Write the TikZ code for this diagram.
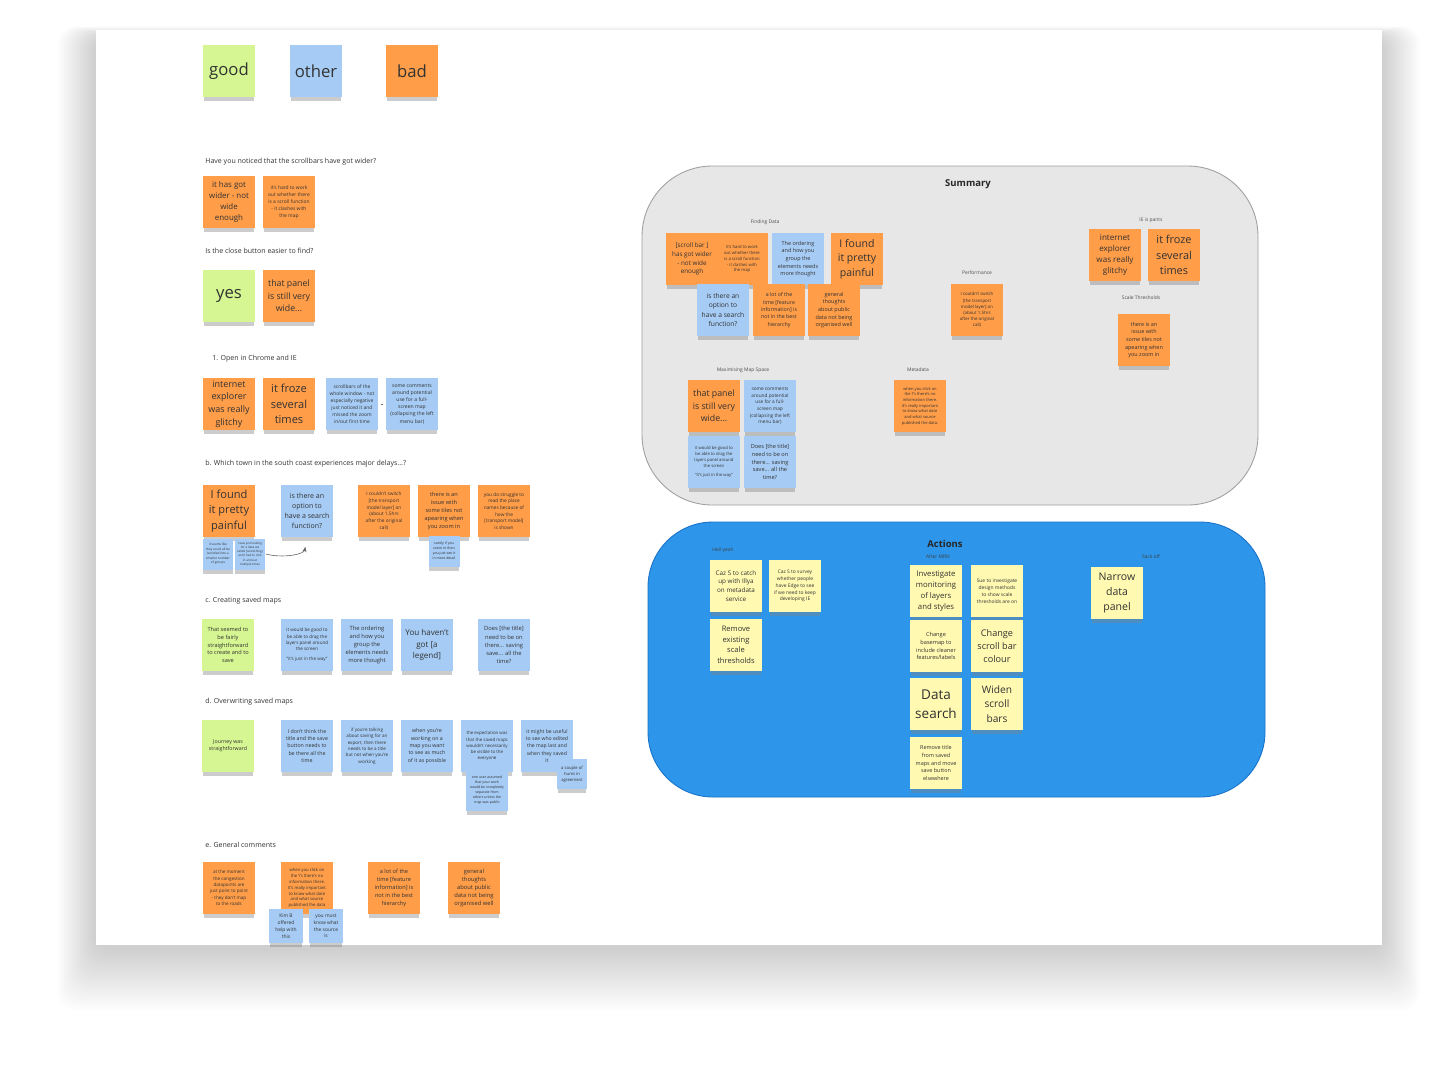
\documentclass[tikz,border=0pt]{standalone}
\usepackage{fontspec}
\setmainfont{Open Sans}
\usetikzlibrary{positioning,arrows.meta,shadows}

\definecolor{noteorange}{RGB}{255,157,72}
\definecolor{notegreen}{RGB}{213,246,146}
\definecolor{noteblue}{RGB}{166,204,245}
\definecolor{noteyellow}{RGB}{255,249,177}
\definecolor{summarygrey}{RGB}{231,231,231}
\definecolor{summaryline}{RGB}{160,160,160}
\definecolor{actionblue}{RGB}{45,150,235}
\definecolor{actionline}{RGB}{25,115,200}
\definecolor{inktext}{RGB}{50,50,50}

\begin{document}
\begin{tikzpicture}[
  x=0.02cm, y=-0.02cm,
  fz/.style={font=\fontsize{#1}{\fpeval{1.4*#1}}\selectfont},
  note/.style={
    minimum width=1.04cm,
    minimum height=1.04cm,
    inner sep=0.4pt,
    align=center,
    text=inktext,
    drop shadow={shadow xshift=0pt, shadow yshift=-3pt, shadow scale=0.96, opacity=0.4}
  },
  orangenote/.style={note, fill=noteorange},
  greennote/.style={note, fill=notegreen},
  bluenote/.style={note, fill=noteblue},
  yellownote/.style={note, fill=noteyellow},
  mini/.style={minimum width=#1, minimum height=#1},
  heading/.style={anchor=west, inner sep=0, text=black!80, fz=4},
  tag/.style={inner sep=0, text=black!70, fz=2.8},
  frametitle/.style={inner sep=0, text=black!85, font=\bfseries\fontsize{5.4}{6.5}\selectfont},
  edge/.style={-{Stealth[length=3pt,width=2.4pt]}, black!60, line width=0.35pt}
]
\useasboundingbox (0,0) rectangle (1438,1066);

% board and its shadow
\foreach \i in {1,...,24}
  \fill[black, opacity=0.007, rounded corners=10pt] (96-1.6*\i,36-0.4*\i) rectangle (1382+1.6*\i,948+2.6*\i);
\fill[white] (96,30) rectangle (1382,945);

% legend
\node[greennote, fz=9.5] (good) at (229,71) {good};
\node[bluenote, fz=9.5] (other) at (316,71) {other};
\node[orangenote, fz=9.5] (bad) at (412,71) {bad};

% scrollbars
\node[heading] (qScroll) at (205,162) {Have you noticed that the scrollbars have got wider?};
\node[orangenote, fz=4.5] (wider) at (229,202) {it has got\\wider - not\\wide\\enough};
\node[orangenote, fz=2.8] (hardWork) at (289,202) {it's hard to work\\out whether there\\is a scroll function\\- it clashes with\\the map};

% close button
\node[heading] (qClose) at (205,251) {Is the close button easier to find?};
\node[greennote, fz=9.5] (yes) at (229,296) {yes};
\node[orangenote, fz=5] (panelWide) at (289,296) {that panel\\is still very\\wide...};

% chrome and IE
\node[heading] (qChrome) at (212,359) {1. Open in Chrome and IE};
\node[orangenote, fz=5.1] (glitchy) at (229,404) {internet\\explorer\\was really\\glitchy};
\node[orangenote, fz=6.3] (froze) at (289,404) {it froze\\several\\times};
\node[bluenote, fz=2.8] (wholeWindow) at (352,404) {scrollbars of the\\whole window - not\\especially negative\\just noticed it and\\missed the zoom\\in/out first time};
\node[bluenote, fz=2.9] (fullScreen) at (412,404) {some comments\\around potential\\use for a full-\\screen map\\(collapsing the left\\menu bar)};
\draw[black!60, line width=0.35pt, shorten <=2.6pt, shorten >=2.6pt] (wholeWindow) -- (fullScreen);

% south coast
\node[heading] (qTown) at (205,464) {b. Which town in the south coast experiences major delays...?};
\node[orangenote, fz=6.3] (painful) at (229,511) {I found\\it pretty\\painful};
\node[bluenote, mini=0.62cm, fz=1.8] (bundled) at (218,554) {it seems like\\they could all be\\bundled into a\\smaller number\\of groups};
\node[bluenote, mini=0.62cm, fz=1.7] (lookingFor) at (250,554) {I was just looking\\for a data set\\called [something]\\and I had to click\\in and out\\multiple times};
\node[bluenote, fz=4] (searchFn) at (307,511) {is there an\\option to\\have a search\\function?};
\node[orangenote, fz=2.7] (couldntSwitch) at (384,511) {I couldn't switch\\{}[the transport\\model layer] on\\(about 1.5hrs\\after the original\\call)};
\node[orangenote, fz=3.2] (tiles) at (444,511) {there is an\\issue with\\some tiles not\\apearing when\\you zoom in};
\node[bluenote, mini=0.62cm, fz=2] (surely) at (444,551) {surely if you\\zoom in then\\you just see it\\in more detail};
\node[orangenote, fz=2.7] (struggle) at (504,511) {you do struggle to\\read the place\\names because of\\how the\\{}[transport model]\\is shown};
\draw[edge, shorten >=5.5pt] (lookingFor.east) to[out=-15, in=-100] (searchFn.south);

% creating saved maps
\node[heading] (qCreate) at (205,601) {c. Creating saved maps};
\node[greennote, fz=3.2] (fairly) at (228,645) {That seemed to\\be fairly\\straightforward\\to create and to\\save};
\node[bluenote, fz=2.6] (dragPanel) at (307,645) {it would be good to\\be able to drag the\\layers panel around\\the screen\\[2pt]``it's just in the way''};
\node[bluenote, fz=3.3] (ordering) at (367,645) {The ordering\\and how you\\group the\\elements needs\\more thought};
\node[bluenote, fz=4.6] (legend) at (427,645) {You haven't\\got [a\\legend]};
\node[bluenote, fz=3.3] (doesTitle) at (504,645) {Does [the title]\\need to be on\\there... saving\\save... all the\\time?};

% overwriting saved maps
\node[heading] (qOverwrite) at (205,702) {d. Overwriting saved maps};
\node[greennote, fz=3] (journey) at (228,746) {Journey was\\straightforward};
\node[bluenote, fz=3] (dontTitle) at (307,746) {I don't think the\\title and the save\\button needs to\\be there all the\\time};
\node[bluenote, fz=2.6] (export) at (367,746) {if you're talking\\about saving for an\\export, then there\\needs to be a title\\but not when you're\\working};
\node[bluenote, fz=3] (asMuch) at (427,746) {when you're\\working on a\\map you want\\to see as much\\of it as possible};
\node[bluenote, fz=2.5] (expectation) at (487,746) {the expectation was\\that the saved maps\\wouldn't necessarily\\be visible to the\\everyone};
\node[bluenote, fz=2.9] (whoEdited) at (547,746) {it might be useful\\to see who edited\\the map last and\\when they saved\\it};
\node[bluenote, mini=0.83cm, fz=2] (oneUser) at (487,790) {one user assumed\\that your work\\would be completely\\separate from\\others unless the\\map was public};
\node[bluenote, mini=0.6cm, fz=2.4] (hums) at (572,774) {a couple of\\hums in\\agreement};

% general comments
\node[heading] (qGeneral) at (205,845) {e. General comments};
\node[orangenote, fz=2.6] (congestion) at (229,888) {at the moment\\the congestion\\datapoints are\\just point to point\\- they don't map\\to the roads};
\node[orangenote, fz=2.4] (clickInfo) at (307,888) {when you click on\\the `i's there's no\\information there.\\It's really important\\to know what date\\and what source\\published the data};
\node[orangenote, fz=3.2] (hierarchy) at (394,888) {a lot of the\\time [feature\\information] is\\not in the best\\hierarchy};
\node[orangenote, fz=3.3] (publicData) at (474,888) {general\\thoughts\\about public\\data not being\\organised well};
\node[bluenote, mini=0.67cm, fz=2.8] (kimB) at (286,926) {Kim B\\offered\\help with\\this};
\node[bluenote, mini=0.67cm, fz=2.8] (mustKnow) at (326,926) {you must\\know what\\the source\\is};

% summary frame
\draw[fill=summarygrey, draw=summaryline, line width=0.5pt, rounded corners=40pt] (642,166) rectangle (1258,505);
\node[frametitle] (summary) at (968,184) {Summary};

\node[tag] (findingData) at (765,222) {Finding Data};
\node[orangenote, fz=3.6] (sumScroll) at (692,259) {[scroll bar ]\\has got wider\\- not wide\\enough};
\node[orangenote, fz=2.4] (sumHard) at (742,259) {it's hard to work\\out whether there\\is a scroll function\\- it clashes with\\the map};
\node[bluenote, fz=3.1] (sumOrder) at (798,259) {The ordering\\and how you\\group the\\elements needs\\more thought};
\node[orangenote, fz=6] (sumPainful) at (857,259) {I found\\it pretty\\painful};
\node[bluenote, fz=3.8] (sumSearch) at (723,310) {is there an\\option to\\have a search\\function?};
\node[orangenote, fz=3] (sumHierarchy) at (779,310) {a lot of the\\time [feature\\information] is\\not in the best\\hierarchy};
\node[orangenote, fz=3.1] (sumPublic) at (834,310) {general\\thoughts\\about public\\data not being\\organised well};

\node[tag] (performance) at (977,273) {Performance};
\node[orangenote, fz=2.5] (sumSwitch) at (977,310) {I couldn't switch\\{}[the transport\\model layer] on\\(about 1.5hrs\\after the original\\call)};

\node[tag] (iePants) at (1151,220) {IE is pants};
\node[orangenote, fz=4.6] (sumGlitchy) at (1115,255) {internet\\explorer\\was really\\glitchy};
\node[orangenote, fz=6.2] (sumFroze) at (1174,255) {it froze\\several\\times};

\node[tag] (scaleThresholds) at (1141,298) {Scale Thresholds};
\node[orangenote, fz=3.1] (sumTiles) at (1144,340) {there is an\\issue with\\some tiles not\\apearing when\\you zoom in};

\node[tag] (mapSpace) at (743,370) {Maximising Map Space};
\node[orangenote, fz=5] (sumPanel) at (714,406) {that panel\\is still very\\wide...};
\node[bluenote, fz=2.7] (sumComments) at (770,406) {some comments\\around potential\\use for a full-\\screen map\\(collapsing the left\\menu bar)};
\node[bluenote, fz=2.4] (sumDrag) at (714,462) {it would be good to\\be able to drag the\\layers panel around\\the screen\\[2pt]``it's just in the way''};
\node[bluenote, fz=3.2] (sumTitle) at (770,462) {Does [the title]\\need to be on\\there... saving\\save... all the\\time?};

\node[tag] (metadata) at (918,370) {Metadata};
\node[orangenote, fz=2.3] (sumClick) at (920,406) {when you click on\\the `i's there's no\\information there.\\It's really important\\to know what date\\and what source\\published the data.};

% actions frame
\draw[fill=actionblue, draw=actionline, line width=0.5pt, rounded corners=37pt] (648,522) rectangle (1265,797);
\node[frametitle] (actions) at (945,544) {Actions};

\node[tag, text=black!75] (hellYeah) at (723,550) {Hell yeah};
\node[yellownote, fz=3.6] (catchUp) at (736,586) {Caz S to catch\\up with Illya\\on metadata\\service};
\node[yellownote, fz=2.8] (survey) at (795,586) {Caz S to survey\\whether people\\have Edge to see\\if we need to keep\\developing IE};
\node[yellownote, fz=4.3] (removeScale) at (736,645) {Remove\\existing\\scale\\thresholds};

\node[tag, text=black!75] (afterMRN) at (938,557) {After MRN};
\node[yellownote, fz=4.4] (monitoring) at (936,591) {Investigate\\monitoring\\of layers\\and styles};
\node[yellownote, fz=2.8] (designMethods) at (997,591) {Sue to investigate\\design methods\\to show scale\\thresholds are on};
\node[yellownote, fz=3.2] (basemap) at (936,646) {Change\\basemap to\\include cleaner\\features/labels};
\node[yellownote, fz=5.2] (scrollColour) at (997,646) {Change\\scroll bar\\colour};
\node[yellownote, fz=7.7] (dataSearch) at (936,704) {Data\\search};
\node[yellownote, fz=5.8] (widen) at (997,704) {Widen\\scroll\\bars};
\node[yellownote, fz=3.1] (removeTitle) at (936,763) {Remove title\\from saved\\maps and move\\save button\\elsewhere};

\node[tag, text=black!75] (sackOff) at (1151,557) {Sack off};
\node[yellownote, fz=6] (narrow) at (1117,593) {Narrow\\data\\panel};
\end{tikzpicture}
\end{document}
